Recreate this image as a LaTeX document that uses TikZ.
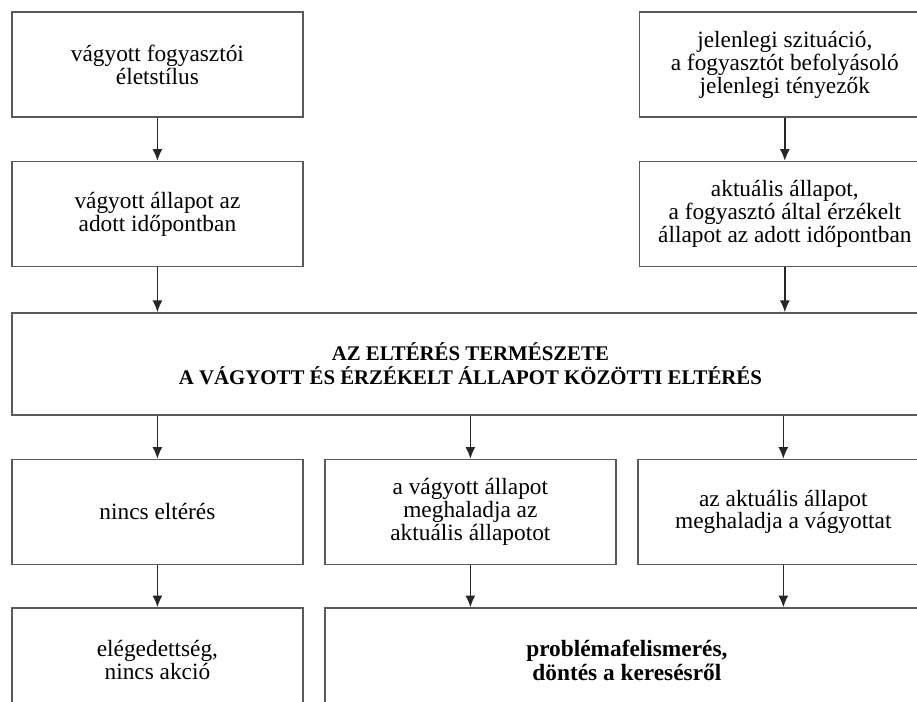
\documentclass[tikz,border=0pt]{standalone}
\usepackage{fontspec}
\setmainfont{Liberation Serif}
\usetikzlibrary{positioning,arrows.meta}

\begin{document}
\begin{tikzpicture}[
    font=\fontsize{14}{12}\selectfont,
    line/.style={-{Latex[length=7pt,width=6pt]}, line width=0.8pt, draw=black!85},
    stage/.style={
        draw=black!65, line width=0.9pt,
        minimum width=61.4mm,
        minimum height=22.1mm,
        align=center,
        inner sep=1pt
    },
    gapbox/.style={
        draw=black!65, line width=0.9pt,
        minimum width=193.4mm,
        minimum height=21.5mm,
        align=center,
        font=\fontsize{12.5}{14}\selectfont\bfseries
    },
    widebox/.style={
        stage,
        minimum width=127.4mm,
        font=\fontsize{14}{12}\selectfont\bfseries
    }
]

\useasboundingbox (0,0) rectangle (193.39mm,-148.04mm);

% Top row
\node[stage] (desired) at (33.2mm,-13.6mm) {vágyott fogyasztói\\életstílus};
\node[stage, right=70.6mm of desired] (situation) {jelenlegi szituáció,\\a fogyasztót befolyásoló\\jelenlegi tényezők};

% Second row
\node[stage, below=9.1mm of desired] (desstate) {vágyott állapot az\\adott időpontban};
\node[stage, below=9.1mm of situation] (actstate) {aktuális állapot,\\a fogyasztó által érzékelt\\állapot az adott időpontban};

% Discrepancy
\node[gapbox, below=9.5mm of desstate.south west, anchor=north west] (gap) {AZ ELTÉRÉS TERMÉSZETE\\A VÁGYOTT ÉS ÉRZÉKELT ÁLLAPOT KÖZÖTTI ELTÉRÉS};

% Third row
\node[stage, below=9.1mm of gap.south west, anchor=north west] (nogap) {nincs eltérés};
\node[stage, below=9.1mm of gap.south] (wantmore) {a vágyott állapot\\meghaladja az\\aktuális állapotot};
\node[stage, below=9.1mm of gap.south east, anchor=north east] (actmore) {az aktuális állapot\\meghaladja a vágyottat};

% Bottom row
\node[stage, below=8.9mm of nogap] (content) {elégedettség,\\nincs akció};
\node[widebox, below=8.9mm of wantmore.south west, anchor=north west] (search) {problémafelismerés,\\döntés a keresésről};

% Arrows
\draw[line] (desired) -- (desstate);
\draw[line] (situation) -- (actstate);
\draw[line] (desstate.south) -- (desstate.south |- gap.north);
\draw[line] (actstate.south) -- (actstate.south |- gap.north);
\draw[line] (nogap.north |- gap.south) -- (nogap.north);
\draw[line] (gap.south) -- (wantmore.north);
\draw[line] (actmore.north |- gap.south) -- (actmore.north);
\draw[line] (nogap) -- (content);
\draw[line] (wantmore.south) -- (wantmore.south |- search.north);
\draw[line] (actmore.south) -- (actmore.south |- search.north);

\end{tikzpicture}
\end{document}
